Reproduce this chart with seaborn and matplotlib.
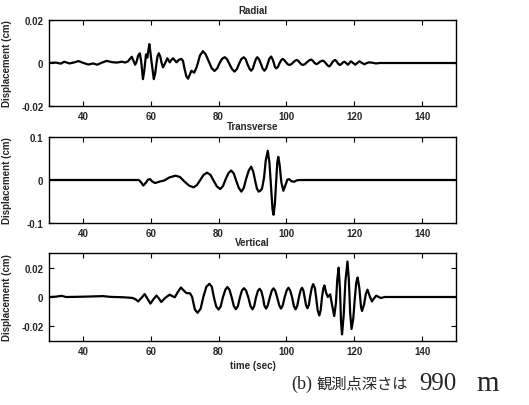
import matplotlib
matplotlib.use("Agg")
import matplotlib.pyplot as plt
import pandas as pd
import seaborn as sns

# ---------------- data ----------------
x_ticks = [40, 60, 80, 100, 120, 140]

radial_t = [30, 32, 33.5, 34.5, 36, 37.5, 38.7, 40, 41.6, 43, 44.2, 45.5, 47, 48.5,
            50, 51.5, 52.5, 53.3, 54.4, 54.9, 55.4, 55.8, 56.3, 56.8, 57.2, 57.7,
            58.1, 58.6, 59.0, 59.3, 59.6, 60.2, 60.9, 61.3, 61.7, 62.0, 62.4, 62.8,
            63.2, 63.6, 64.2, 64.9, 65.6, 66.1, 66.6, 67.1, 67.6, 68.3, 69.0, 69.5,
            70.0, 70.5, 71.0, 71.5, 72.0, 72.4, 72.8, 73.4, 73.9, 74.5, 75.4, 76.2,
            77.1, 78.0, 78.8, 79.6, 80.3, 81.0, 81.8, 82.5, 83.2, 84.0, 84.7, 85.4,
            86.0, 86.7, 87.4, 88.0, 88.5, 89.1, 89.6, 90.1, 90.5, 91.0, 91.4, 91.9,
            92.5, 93.0, 93.5, 94.0, 94.5, 95.0, 95.5, 95.9, 96.3, 96.6, 97.0, 97.5,
            98.0, 98.5, 98.9, 99.4, 99.9, 100.4, 100.9, 101.4, 102.0, 102.5, 103.0,
            103.5, 103.9, 104.4, 104.8, 105.4, 106.0, 106.7, 107.3, 107.8, 108.3,
            108.8, 109.3, 110.0, 110.7, 111.2, 111.7, 112.2, 112.6, 113.0, 113.5,
            113.9, 114.3, 114.7, 115.1, 115.5, 115.8, 116.2, 116.7, 117.1, 117.6,
            118.1, 118.5, 119.0, 119.6, 120.3, 120.9, 121.5, 122.2, 123.0, 123.7,
            124.4, 125.4, 126.4, 127.5, 150]
radial_v = [0, 0.0002, -0.0003, 0.0006, -0.0002, 0.0003, 0.0009, 0.0001, -0.0007,
            -0.0002, -0.0008, 0.0001, 0.0010, 0.0004, 0.0002, 0.0006, 0.0002, 0.0008,
            0.0029, 0.0010, -0.0008, 0.0005, 0.0035, 0.0045, 0.0005, -0.0075,
            -0.0035, 0.0040, 0.0025, 0.0060, 0.0088, 0.0010, -0.0075, -0.0050,
            0.0000, 0.0032, 0.0045, 0.0030, 0.0000, -0.0020, -0.0002, 0.0022,
            0.0003, 0.0015, 0.0022, 0.0012, 0.0003, 0.0015, 0.0019, 0.0010,
            -0.0030, -0.0062, -0.0073, -0.0055, -0.0036, -0.0040, -0.0045, -0.0025,
            0.0000, 0.0035, 0.0055, 0.0040, 0.0008, -0.0025, -0.0037, -0.0025,
            0.0000, 0.0019, 0.0027, 0.0018, -0.0005, -0.0029, -0.0040, -0.0028,
            -0.0005, 0.0018, 0.0027, 0.0018, -0.0005, -0.0026, -0.0036, -0.0026,
            -0.0005, 0.0018, 0.0027, 0.0018, -0.0005, -0.0026, -0.0036, -0.0026,
            -0.0002, 0.0021, 0.0030, 0.0018, 0.0000, -0.0018, -0.0025, -0.0018,
            0.0000, 0.0014, 0.0019, 0.0013, 0.0003, -0.0006, -0.0009, -0.0006,
            0.0003, 0.0010, 0.0014, 0.0010, 0.0002, -0.0006, -0.0009, -0.0006,
            0.0003, 0.0012, 0.0016, 0.0010, 0.0000, -0.0005, -0.0002, 0.0007,
            0.0011, 0.0007, -0.0003, -0.0012, -0.0016, -0.0010, 0.0002, 0.0010,
            0.0014, 0.0010, 0.0000, -0.0007, -0.0009, -0.0005, 0.0003, 0.0006,
            0.0000, -0.0008, -0.0002, 0.0008, 0.0001, -0.0008, 0.0000, 0.0008,
            0.0001, -0.0006, 0.0000, 0.0003, 0.0001, -0.0002, 0.0000, 0.0000]

transverse_t = [30, 56.5, 57.2, 57.8, 58.6, 59.2, 59.8, 60.5, 61.3, 62.5, 64.0, 65.5,
                67.3, 68.6, 70.0, 71.3, 72.6, 73.6, 74.6, 75.6, 76.6, 77.6, 78.5,
                79.5, 80.5, 81.3, 82.1, 82.9, 83.7, 84.5, 85.2, 86.0, 86.7, 87.4,
                88.1, 88.9, 89.6, 90.2, 90.9, 91.3, 91.8, 92.3, 92.8, 93.4, 93.9,
                94.5, 95.0, 95.5, 95.9, 96.2, 96.6, 97.0, 97.3, 97.6, 98.0, 98.5,
                99.1, 99.8, 100.3, 100.8, 101.5, 102.3, 103.0, 103.8, 150]
transverse_v = [0, 0, -0.006, -0.013, -0.006, 0.001, 0.002, -0.004, -0.007, -0.004,
                -0.001, 0.006, 0.010, 0.007, -0.004, -0.013, -0.017, -0.012, 0.000,
                0.012, 0.017, 0.012, -0.001, -0.015, -0.021, -0.014, 0.002, 0.016,
                0.022, 0.015, -0.002, -0.019, -0.027, -0.019, 0.002, 0.022, 0.031,
                0.020, -0.006, -0.020, -0.027, -0.025, -0.020, 0.005, 0.045, 0.068,
                0.040, -0.020, -0.068, -0.081, -0.055, 0.000, 0.040, 0.054, 0.035,
                -0.005, -0.025, -0.010, 0.001, 0.002, -0.003, -0.004, -0.001, 0, 0]

vertical_t = [30, 32, 33.7, 35, 40, 45.9, 48, 52, 54.5, 55.5, 56.3, 57.3, 58.2, 59.0,
              59.9, 60.8, 61.7, 62.4, 63.1, 64.3, 65.6, 66.4, 67.1, 68.0, 68.9, 69.7,
              70.5, 71.6, 72.2, 73.0, 73.8, 74.7, 75.5, 76.4, 77.3, 78.0, 78.6, 79.3,
              80.0, 80.6, 81.3, 82.0, 82.6, 83.2, 83.9, 84.5, 85.1, 85.7, 86.3, 86.9,
              87.5, 88.1, 88.8, 89.4, 90.0, 90.5, 91.0, 91.6, 92.1, 92.6, 93.1, 93.5,
              94.0, 94.5, 95.1, 95.7, 96.2, 96.7, 97.3, 97.9, 98.4, 98.9, 99.5, 100.1,
              100.6, 101.1, 101.7, 102.2, 102.7, 103.2, 103.7, 104.2, 104.6, 105.0,
              105.4, 105.8, 106.2, 106.6, 107.0, 107.5, 107.9, 108.4, 108.8, 109.2,
              109.7, 110.1, 110.5, 110.9, 111.2, 111.7, 112.2, 112.9, 113.5, 114.1,
              114.6, 115.0, 115.4, 115.8, 116.1, 116.4, 116.9, 117.4, 118.0, 118.4,
              118.8, 119.2, 119.7, 120.2, 120.6, 121.0, 121.5, 122.0, 122.3, 122.9,
              123.4, 123.9, 124.5, 125.2, 125.8, 126.5, 127.2, 127.8, 129, 150]
vertical_v = [0, 0.0002, 0.0008, 0, 0.0002, 0.0006, 0.0001, -0.0002, -0.0006, -0.0015,
              -0.0030, -0.0005, 0.0020, -0.0010, -0.0045, -0.0015, 0.0010, -0.0010,
              -0.0034, -0.0005, 0.0016, 0.0005, -0.0002, 0.0035, 0.0065, 0.0045,
              0.0027, 0.0025, 0.0000, -0.0085, -0.0108, -0.0080, 0.0000, 0.0070,
              0.0090, 0.0070, 0.0000, -0.0065, -0.0085, -0.0065, 0.0000, 0.0050,
              0.0068, 0.0050, -0.0005, -0.0062, -0.0083, -0.0062, -0.0002, 0.0045,
              0.0060, 0.0044, -0.0005, -0.0062, -0.0084, -0.0062, -0.0005, 0.0042,
              0.0056, 0.0040, -0.0005, -0.0058, -0.0079, -0.0058, -0.0003, 0.0044,
              0.0059, 0.0043, -0.0005, -0.0058, -0.0079, -0.0058, 0.0000, 0.0046,
              0.0063, 0.0045, -0.0005, -0.0062, -0.0084, -0.0060, 0.0000, 0.0047,
              0.0063, 0.0045, -0.0005, -0.0058, -0.0077, -0.0055, 0.0005, 0.0065,
              0.0088, 0.0060, -0.0010, -0.0090, -0.0126, -0.0090, 0.0000, 0.0060,
              0.0079, 0.0030, 0.0000, 0.0018, -0.0060, -0.0130, -0.0040, 0.0120,
              0.0200, 0.0050, -0.0170, -0.0255, -0.0120, 0.0110, 0.0242, 0.0120,
              -0.0110, -0.0218, -0.0150, 0.0000, 0.0100, 0.0133, 0.0060, -0.0070,
              -0.0095, -0.0050, 0.0020, 0.0050, 0.0010, -0.0030, -0.0010, 0.0009,
              0.0000, -0.0007, 0, 0]

panels = [
    ("Radial", radial_t, radial_v, (-0.02, 0.02), [-0.02, 0, 0.02], ["-0.02", "0", "0.02"]),
    ("Transverse", transverse_t, transverse_v, (-0.1, 0.1), [-0.1, 0, 0.1], ["-0.1", "0", "0.1"]),
    ("Vertical", vertical_t, vertical_v, (-0.03, 0.03), [-0.02, 0, 0.02], ["-0.02", "0", "0.02"]),
]
caption_parts = ["(b)", "観測点深さは", "990", "m"]

# ---------------- style / layout ----------------
sns.set_theme(style="white")
plt.rcParams["font.family"] = ["Liberation Sans", "DejaVu Sans"]

W, H = 529, 406
fig = plt.figure(figsize=(W / 100, H / 100), dpi=100)
boxes = [(21, 107), (138, 224), (254, 342)]
left_px, right_px = 49, 456

for (title, t, v, ylim, yt, ytl), (top, bot) in zip(panels, boxes):
    ax = fig.add_axes([left_px / W, 1 - bot / H, (right_px - left_px) / W, (bot - top) / H])
    df = pd.DataFrame({"time": t, "disp": v})
    sns.lineplot(data=df, x="time", y="disp", ax=ax, color="black", linewidth=1.6,
                 sort=False, estimator=None)
    ax.lines[-1].set_solid_joinstyle("round")
    ax.set_xlim(30, 150)
    ax.set_ylim(*ylim)
    ax.set_xticks(x_ticks)
    ax.set_xticklabels([str(x) for x in x_ticks], fontsize=7, fontweight="bold")
    ax.set_yticks(yt)
    ax.set_yticklabels(ytl, fontsize=7, fontweight="bold")
    ax.tick_params(direction="in", top=True, right=True, bottom=True, left=True,
                   length=3.5, width=0.8, color="black", pad=4)
    ax.tick_params(axis="x", pad=3.5)
    for s in ax.spines.values():
        s.set_color("black")
        s.set_linewidth(1.0)
    ax.set_title(title, fontsize=7, fontweight="bold", pad=5.4)
    ax.set_ylabel("Displacement (cm)", fontsize=7, fontweight="bold")
    ax.yaxis.set_label_coords(-0.092, 0.5)
    ax.set_xlabel("")
    ax.grid(False)
    last_ax = ax

last_ax.set_xlabel("time (sec)", fontsize=7, fontweight="bold")
last_ax.xaxis.set_label_coords(0.5, -0.215)

cap_font = ["Liberation Serif", "Noto Sans CJK JP", "DejaVu Sans"]
cy = 1 - 384 / H
fig.text(291 / W, cy, caption_parts[0], fontsize=13, family=cap_font, va="center", ha="left")
fig.text(317 / W, cy, caption_parts[1], fontsize=11, family=cap_font, va="center", ha="left")
fig.text(419 / W, cy, caption_parts[2], fontsize=18, family=cap_font, va="center", ha="left")
fig.text(488 / W, cy, caption_parts[3], fontsize=21, family=cap_font, va="center", ha="center")

fig.savefig("out.png", dpi=100, facecolor="white")
